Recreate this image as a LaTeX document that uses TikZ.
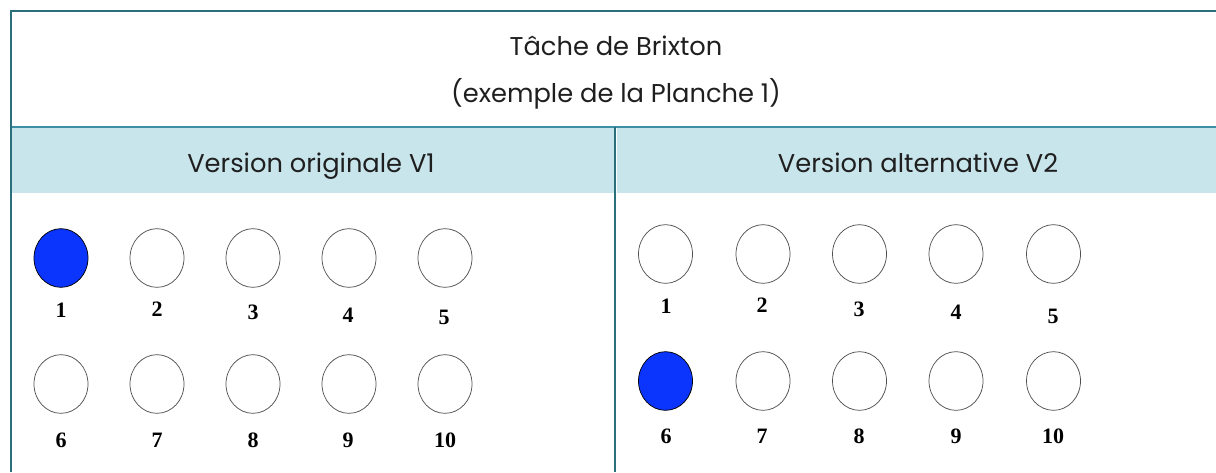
\documentclass[tikz,border=0pt]{standalone}
\usepackage{fontspec}
\setmainfont{Poppins}
\newfontfamily\numfont{Liberation Serif}
\usetikzlibrary{shapes.geometric}

\definecolor{bordteal}{HTML}{2C6F7C}
\definecolor{lineteal}{HTML}{3D90A4}
\definecolor{bandblue}{HTML}{C9E5EC}
\definecolor{pickblue}{HTML}{0B35FD}
\definecolor{circgray}{HTML}{505050}

\begin{document}
\begin{tikzpicture}[x=0.75pt,y=-0.75pt,
    disc/.style={ellipse,draw=circgray,line width=0.55pt,minimum width=40.5pt,minimum height=44pt,inner sep=0pt},
    picked/.style={disc,draw=black,fill=pickblue},
    num/.style={anchor=base,inner sep=0pt,font=\numfont\bfseries\fontsize{16.5}{18}\selectfont},
    head/.style={anchor=base,inner sep=0pt,text=black!88,font=\fontsize{19.3}{22}\selectfont}]
            \useasboundingbox (0,0) rectangle (1216,472);

            % table frame
            \fill[bandblue] (12,128) rectangle (614,193);
            \fill[bandblue] (617,128) rectangle (1216,193);
            \draw[lineteal,line width=1.4pt] (12,127) -- (1216,127);
            \draw[bordteal,line width=1.4pt] (11,472) -- (11,11) -- (1216,11);
            \draw[bordteal,line width=1.4pt] (615,127) -- (615,472);

            \node (title) at (616,55) [head] {Tâche de Brixton};
            \node (subtitle) at (616,102) [head] {(exemple de la Planche 1)};
            \node (vone) at (311,172) [head] {Version originale V1};
            \node (vtwo) at (918,172) [head] {Version alternative V2};

            % version 1
            \node (l1) at (61,258) [picked] {};
            \node (l2) at (157,258) [disc] {};
            \node (l3) at (253,258) [disc] {};
            \node (l4) at (349,258) [disc] {};
            \node (l5) at (445,258) [disc] {};
            \node (l6) at (61,384) [disc] {};
            \node (l7) at (157,384) [disc] {};
            \node (l8) at (253,384) [disc] {};
            \node (l9) at (349,384) [disc] {};
            \node (l10) at (445,384) [disc] {};

            \node (nl1) at (61,317) [num] {1};
            \node (nl2) at (157,316) [num] {2};
            \node (nl3) at (253,319) [num] {3};
            \node (nl4) at (348,322) [num] {4};
            \node (nl5) at (444,324) [num] {5};
            \node (nl6) at (61,447) [num] {6};
            \node (nl7) at (157,447) [num] {7};
            \node (nl8) at (253,447) [num] {8};
            \node (nl9) at (348,447) [num] {9};
            \node (nl10) at (445,447) [num] {10};

            % version 2
            \node (r1) at (665.5,254) [disc] {};
            \node (r2) at (763,254) [disc] {};
            \node (r3) at (859.5,254) [disc] {};
            \node (r4) at (956,254) [disc] {};
            \node (r5) at (1053.5,254) [disc] {};
            \node (r6) at (665.5,381) [picked] {};
            \node (r7) at (763,381) [disc] {};
            \node (r8) at (859.5,381) [disc] {};
            \node (r9) at (956,381) [disc] {};
            \node (r10) at (1053.5,381) [disc] {};

            \node (nr1) at (666,313) [num] {1};
            \node (nr2) at (762,312) [num] {2};
            \node (nr3) at (859,316) [num] {3};
            \node (nr4) at (956,319) [num] {4};
            \node (nr5) at (1053,323) [num] {5};
            \node (nr6) at (666,443) [num] {6};
            \node (nr7) at (762,443) [num] {7};
            \node (nr8) at (859,443) [num] {8};
            \node (nr9) at (956,443) [num] {9};
            \node (nr10) at (1053,443) [num] {10};

        \end{tikzpicture}
\end{document}
